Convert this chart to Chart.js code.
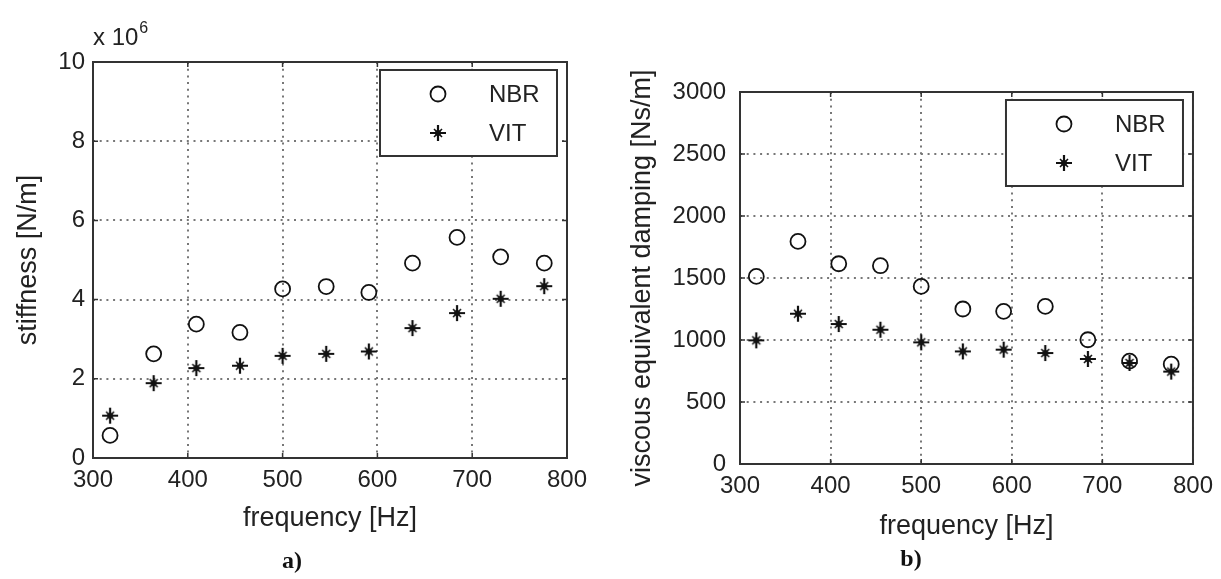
<!DOCTYPE html>
<html>
<head>
<meta charset="utf-8">
<script src="https://cdn.jsdelivr.net/npm/chart.js@4.4.0/dist/chart.umd.min.js"></script>
<style>
  body { margin: 0; background: #fff; }
  #wrap { position: relative; width: 1221px; height: 579px; overflow: hidden; background: #fff; }
  canvas { position: absolute; top: 0; }
  .cap { position: absolute; font: bold 24px "Liberation Serif", serif; color: #111; transform: translate(-50%, -50%); }
</style>
</head>
<body>
<div id="wrap">
  <canvas id="stiffChart" width="610" height="579" style="left:0"></canvas>
  <canvas id="dampChart" width="611" height="579" style="left:610px"></canvas>
  <div class="cap" style="left:292px; top:560px">a)</div>
  <div class="cap" style="left:911px; top:558px">b)</div>
</div>
<script>
const freq = [318, 364, 409, 455, 500, 546, 591, 637, 684, 730, 776];
// stiffness, in units of 10^6 N/m
const stiffNBR = [0.57, 2.63, 3.38, 3.17, 4.27, 4.33, 4.18, 4.92, 5.57, 5.08, 4.92];
const stiffVIT = [1.07, 1.89, 2.27, 2.33, 2.58, 2.63, 2.69, 3.28, 3.66, 4.02, 4.34];
// viscous equivalent damping, Ns/m
const dampNBR = [1513, 1795, 1615, 1599, 1432, 1250, 1231, 1271, 1002, 830, 805];
const dampVIT = [997, 1212, 1129, 1083, 981, 908, 922, 895, 847, 815, 745];

const freqTicks = [300, 400, 500, 600, 700, 800];
const stiffTicks = [0, 2, 4, 6, 8, 10];
const dampTicks = [0, 500, 1000, 1500, 2000, 2500, 3000];
const seriesNames = ['NBR', 'VIT'];

const FONT = '"Liberation Sans", Arial, sans-serif';
const INK = '#222';

// matlab-ish '*' marker, as it looks after scanning
function makeStar() {
  const c = document.createElement('canvas');
  c.width = 20; c.height = 20;
  const g = c.getContext('2d');
  g.strokeStyle = '#111';
  g.lineWidth = 2.2;
  g.beginPath();
  g.moveTo(10, 2); g.lineTo(10, 18);
  g.moveTo(2, 10); g.lineTo(18, 10);
  g.stroke();
  g.lineWidth = 1.6;
  g.beginPath();
  g.moveTo(6, 6); g.lineTo(14, 14);
  g.moveTo(14, 6); g.lineTo(6, 14);
  g.stroke();
  g.fillStyle = '#111';
  g.beginPath(); g.arc(10, 10, 3, 0, Math.PI * 2); g.fill();
  return c;
}
const star = makeStar();

const points = (xs, ys) => xs.map((x, i) => ({ x, y: ys[i] }));
const plain = v => String(v);

// box, inward ticks, legend and the exponent label
const framePlugin = {
  id: 'frame',
  afterDraw(chart, args, opts) {
    const { ctx, chartArea: a, scales } = chart;
    ctx.save();
    ctx.strokeStyle = '#333';
    ctx.lineWidth = 2;
    ctx.strokeRect(a.left, a.top, a.right - a.left, a.bottom - a.top);

    ctx.lineWidth = 1.5;
    ctx.beginPath();
    scales.x.ticks.forEach(t => {
      const px = scales.x.getPixelForValue(t.value);
      ctx.moveTo(px, a.bottom); ctx.lineTo(px, a.bottom - 5);
      ctx.moveTo(px, a.top); ctx.lineTo(px, a.top + 5);
    });
    scales.y.ticks.forEach(t => {
      const py = scales.y.getPixelForValue(t.value);
      ctx.moveTo(a.left, py); ctx.lineTo(a.left + 5, py);
      ctx.moveTo(a.right, py); ctx.lineTo(a.right - 5, py);
    });
    ctx.stroke();

    // legend box
    const w = 177, h = 86;
    const lx = a.right - 10 - w, ly = a.top + 8;
    ctx.fillStyle = '#fff';
    ctx.fillRect(lx, ly, w, h);
    ctx.lineWidth = 2;
    ctx.strokeStyle = '#333';
    ctx.strokeRect(lx, ly, w, h);
    ctx.font = '24px ' + FONT;
    ctx.textBaseline = 'middle';
    ctx.textAlign = 'left';
    chart.data.datasets.forEach((ds, i) => {
      const my = ly + 24 + i * 39;
      const mx = lx + 58;
      if (ds.pointStyle === 'circle') {
        ctx.beginPath();
        ctx.lineWidth = ds.borderWidth;
        ctx.strokeStyle = ds.borderColor;
        ctx.arc(mx, my, ds.pointRadius, 0, Math.PI * 2);
        ctx.stroke();
      } else {
        ctx.drawImage(ds.pointStyle, mx - 10, my - 10);
      }
      ctx.fillStyle = INK;
      ctx.fillText(ds.label, lx + 109, my + 1);
    });

    if (opts.exponent) {
      ctx.fillStyle = INK;
      ctx.font = '24px ' + FONT;
      ctx.textBaseline = 'middle';
      ctx.fillText('x 10', a.left, a.top - 24);
      const wx = ctx.measureText('x 10').width;
      ctx.font = '16px ' + FONT;
      ctx.fillText(opts.exponent, a.left + wx + 1, a.top - 33);
    }
    ctx.restore();
  }
};

function makeChart(id, nbr, vit, yTicks, yTitle, lay) {
  return new Chart(document.getElementById(id), {
    type: 'scatter',
    data: {
      datasets: [
        { label: seriesNames[0], data: points(freq, nbr), pointStyle: 'circle', pointRadius: 7.5,
          borderColor: '#111', borderWidth: 1.8, backgroundColor: 'rgba(0,0,0,0)' },
        { label: seriesNames[1], data: points(freq, vit), pointStyle: star, pointRadius: 8,
          borderColor: '#111', backgroundColor: '#111' }
      ]
    },
    options: {
      responsive: false,
      animation: false,
      devicePixelRatio: 1,
      layout: { padding: lay.padding },
      plugins: {
        legend: { display: false },
        tooltip: { enabled: false },
        frame: { exponent: lay.exponent }
      },
      scales: {
        x: {
          type: 'linear',
          min: freqTicks[0], max: freqTicks[freqTicks.length - 1],
          ticks: { stepSize: freqTicks[1] - freqTicks[0], callback: plain, color: INK, font: { family: FONT, size: 24 }, padding: 8, maxRotation: 0 },
          grid: { color: '#777', lineWidth: 2, drawTicks: false },
          border: { display: false, dash: [2, 4.7] },
          title: { display: true, text: 'frequency [Hz]', color: INK, font: { family: FONT, size: 27 }, padding: { top: 0, bottom: lay.xTitlePad } },
          afterFit: s => { s.height = 80; }
        },
        y: {
          type: 'linear',
          min: yTicks[0], max: yTicks[yTicks.length - 1],
          ticks: { stepSize: yTicks[1] - yTicks[0], callback: plain, color: INK, font: { family: FONT, size: 24 }, padding: lay.yTickPad },
          grid: { color: '#777', lineWidth: 2, drawTicks: false },
          border: { display: false, dash: [2, 4.7] },
          title: { display: true, text: yTitle, color: INK, font: { family: FONT, size: 27 }, padding: { top: lay.yTitlePad, bottom: 0 } },
          afterFit: s => { s.width = lay.yWidth; }
        }
      }
    },
    plugins: [framePlugin]
  });
}

makeChart('stiffChart', stiffNBR, stiffVIT, stiffTicks, 'stiffness [N/m]', {
  padding: { left: 0, right: 43, top: 62, bottom: 41 },
  yWidth: 93, yTickPad: 8, yTitlePad: 12, xTitlePad: 3, exponent: '6'
});

makeChart('dampChart', dampNBR, dampVIT, dampTicks, 'viscous equivalent damping [Ns/m]', {
  padding: { left: 0, right: 28, top: 92, bottom: 35 },
  yWidth: 130, yTickPad: 14, yTitlePad: 16, xTitlePad: 1
});
</script>
</body>
</html>
